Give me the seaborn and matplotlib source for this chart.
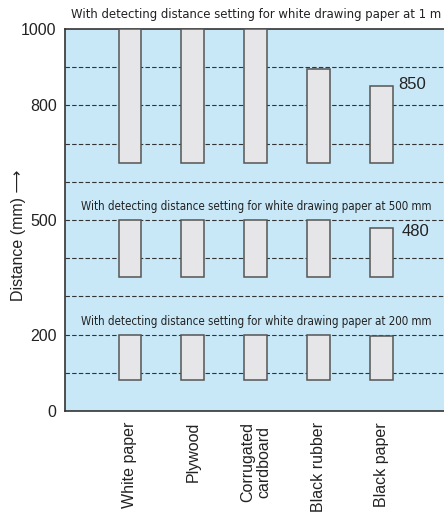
import seaborn as sns
import matplotlib.pyplot as plt
import pandas as pd

# materials and detected distances (mm)
materials = ['White paper', 'Plywood', 'Corrugated\ncardboard', 'Black rubber', 'Black paper']
top_1m = [1000, 1000, 1000, 895, 850]
top_500 = [500, 500, 500, 500, 480]
top_200 = [200, 200, 200, 200, 195]
bottom_1m, bottom_500, bottom_200 = 650, 350, 80

ytick_vals = [0, 200, 500, 800, 1000]
grid_levels = [100, 200, 300, 400, 500, 600, 700, 800, 900]

group_titles = ['With detecting distance setting for white drawing paper at 1 m',
                'With detecting distance setting for white drawing paper at 500 mm',
                'With detecting distance setting for white drawing paper at 200 mm']
title_y = [1037, 534, 233]
title_size = [9.35, 8.3, 8.3]

sns.set_style('ticks', {'axes.facecolor': '#c8e8f8', 'axes.edgecolor': '#333333'})
plt.rcParams['font.family'] = ['Liberation Sans', 'DejaVu Sans']

fig = plt.figure(figsize=(4.44, 5.12), dpi=100)
ax = fig.add_axes([0.1464, 0.1973, 0.8536, 0.7461])

for lvl in grid_levels:
    ax.axhline(lvl, color='#333333', lw=0.8, ls=(0, (4, 2)), zorder=0.5)

groups = [(top_1m, bottom_1m), (top_500, bottom_500), (top_200, bottom_200)]
for tops, bot in groups:
    df = pd.DataFrame({'material': materials, 'h': [t - bot for t in tops]})
    sns.barplot(data=df, x='material', y='h', order=materials, bottom=bot,
                width=0.36, color='#e6e6e8', edgecolor='#555555', linewidth=1.1,
                saturation=1, zorder=3, ax=ax)

ax.set_xlim(-1.03, 4.99)
ax.set_ylim(0, 1000)
ax.set_yticks(ytick_vals)
ax.tick_params(axis='both', length=0, labelsize=11.5, colors='#222222')
ax.tick_params(axis='y', pad=6)
ax.tick_params(axis='x', pad=8)
ax.set_xticks(range(len(materials)))
ax.set_xticklabels(materials, rotation=90, va='top', ha='center', linespacing=1.1)
ax.set_xlabel('')
ax.set_ylabel('Distance (mm) \u27f6', fontsize=11.5, color='#222222')
ax.yaxis.set_label_coords(-0.102, 0.46)

for s in ['top', 'left', 'bottom']:
    ax.spines[s].set_linewidth(1.2)
ax.spines['right'].set_visible(False)

for t, y, fs in zip(group_titles, title_y, title_size):
    ax.text(2, y, t, ha='center', va='center', fontsize=fs, color='#222222',
            family='DejaVu Sans', fontstretch='condensed', clip_on=False)

ax.text(4.27, 855, '850', ha='left', va='center', fontsize=12, color='#222222')
ax.text(4.32, 470, '480', ha='left', va='center', fontsize=12, color='#222222')

fig.savefig('out.png', dpi=100)
